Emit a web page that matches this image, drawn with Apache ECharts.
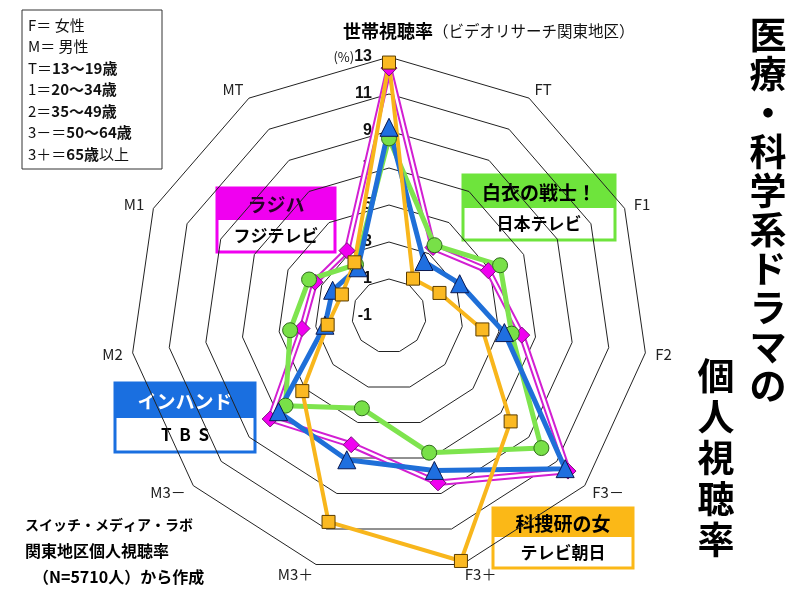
<!DOCTYPE html>
<html lang="ja">
<head>
<meta charset="UTF-8">
<title>医療・科学系ドラマの個人視聴率</title>
<script src="https://cdn.jsdelivr.net/npm/echarts@6/dist/echarts.min.js"></script>
<style>
  html, body { margin: 0; padding: 0; background: #fff; }
  #main { width: 800px; height: 600px; }
</style>
</head>
<body>
<div id="main"></div>
<script>
// 軸（上から時計回り）。先頭は世帯視聴率（見出しは別に描く）
var axisNames = ['', 'FT', 'F1', 'F2', 'F3－', 'F3＋', 'M3＋', 'M3－', 'M2', 'M1', 'MT'];
var tickMin = -1;
var tickMax = 13;
var tickCount = 7;

// 各ドラマの視聴率（%）、並びは axisNames と同じ
var radiationHouse = [12.4, 3.4, 4.9, 6.25, 11.8, 8.4, 6.25, 7.5, 3.75, 3.4, 3.2];   // ラジハ（フジテレビ）
var hakuiNoSenshi  = [8.6, 3.55, 5.6, 5.7, 9.9, 6.7, 4.2, 6.4, 4.4, 3.75, 2.3];     // 白衣の戦士！（日本テレビ）
var inHand         = [9.2, 2.5, 3.2, 5.3, 11.6, 7.7, 7.1, 6.9, 2.5, 2.35, 2.1];     // インハンド（TBS）
var kasouken       = [12.7, 1.4, 2.0, 4.1, 7.7, 12.8, 10.6, 5.2, 2.35, 1.8, 2.45];  // 科捜研の女（テレビ朝日）

var legendLines = [
  '{n|F＝ 女性}',
  '{n|M＝ 男性}',
  '{n|T＝}{b|13〜19歳}',
  '{n|1＝}{b|20〜34歳}',
  '{n|2＝}{b|35〜49歳}',
  '{n|3－＝}{b|50〜64歳}',
  '{n|3＋＝}{b|65歳}{n|以上}'
];
var sourceLines = ['スイッチ・メディア・ラボ', '関東地区個人視聴率', '　（N=5710人）から作成'];
var titleCol1 = '医療・科学系ドラマの';
var titleCol2 = '個人視聴率';

var FONT = '"Noto Sans CJK JP", "Noto Sans", sans-serif';

// echarts のレーダーは反時計回りに並ぶので順序を反転
function ccw(arr) {
  return [arr[0]].concat(arr.slice(1).reverse());
}

var indicator = ccw(axisNames).map(function (n, i) {
  var ind = { name: n, min: tickMin, max: tickMax };
  if (i === 0) {
    ind.axisLabel = {
      show: true,
      color: '#111',
      fontWeight: 'bold',
      fontSize: 16,
      fontFamily: 'Liberation Sans, Arial, sans-serif',
      margin: 17,
      formatter: function (v) {
        return v === tickMax ? '{p|(%)}' + v : '' + v;
      },
      rich: { p: { fontSize: 13, fontWeight: 'normal', color: '#111', fontFamily: FONT } }
    };
  }
  return ind;
});

function box(x, y, w, h1, h2, color, title, titleColor, sub) {
  return {
    type: 'group',
    children: [
      { type: 'rect', shape: { x: x, y: y, width: w, height: h1 }, style: { fill: color } },
      { type: 'rect', shape: { x: x, y: y + h1, width: w, height: h2 }, style: { fill: '#fff' } },
      { type: 'rect', shape: { x: x, y: y, width: w, height: h1 + h2 },
        style: { fill: 'none', stroke: color, lineWidth: 3 } },
      { type: 'text', x: x + w / 2, y: y + h1 / 2 + 1,
        style: { text: title, fill: titleColor, font: 'bold 19px ' + FONT, textAlign: 'center', textVerticalAlign: 'middle' } },
      { type: 'text', x: x + w / 2, y: y + h1 + h2 / 2,
        style: { text: sub, fill: '#000', font: 'bold 17px ' + FONT, textAlign: 'center', textVerticalAlign: 'middle' } }
    ]
  };
}

var graphics = [];
// 凡例説明の枠
graphics.push({ type: 'rect', shape: { x: 22, y: 10, width: 140, height: 159 },
  style: { fill: '#fff', stroke: '#333', lineWidth: 1 } });
legendLines.forEach(function (t, i) {
  graphics.push({ type: 'text', x: 28, y: 25 + i * 21.5,
    style: { text: t, textVerticalAlign: 'middle', rich: {
      n: { fontSize: 15, fontFamily: FONT, fill: '#111' },
      b: { fontSize: 15, fontWeight: 'bold', fontFamily: FONT, fill: '#111' } } } });
});
// 出典
sourceLines.forEach(function (t, i) {
  graphics.push({ type: 'text', x: 25, y: 525 + i * 26,
    style: { text: t, fill: '#000', font: 'bold ' + (i === 0 ? 14 : 16) + 'px ' + FONT, textVerticalAlign: 'middle' } });
});
// 上の見出し
graphics.push({ type: 'text', x: 343, y: 31,
  style: { text: '{a|世帯視聴率}{b|（ビデオリサーチ関東地区）}', textVerticalAlign: 'middle', rich: {
    a: { fontSize: 18, fontWeight: 'bold', fontFamily: FONT, fill: '#000' },
    b: { fontSize: 15.5, fontFamily: FONT, fill: '#111' } } } });
// 縦書きタイトル
graphics.push({ type: 'text', x: 768, y: 15,
  style: { text: titleCol1.split('').join('\n'), fill: '#000', font: 'bold 37px ' + FONT,
    lineHeight: 39, textAlign: 'center' } });
graphics.push({ type: 'text', x: 716, y: 355,
  style: { text: titleCol2.split('').join('\n'), fill: '#000', font: 'bold 37px ' + FONT,
    lineHeight: 41, textAlign: 'center' } });
// ドラマ名の札
graphics.push(box(217, 188, 118, 32, 32, '#f000f0', 'ラジハ', '#2a002a', 'フジテレビ'));
graphics.push(box(463, 175, 152, 33, 32, '#6ee43c', '白衣の戦士！', '#000', '日本テレビ'));
graphics.push(box(115, 383, 140, 35, 34, '#1a6fe0', 'インハンド', '#fff', 'T  B  S'));
graphics.push(box(493, 508, 140, 29, 31, '#fbb817', '科捜研の女', '#000', 'テレビ朝日'));

function series(name, values, line, lineW, symbol, size, fill, border) {
  return {
    type: 'radar',
    name: name,
    symbol: symbol,
    symbolSize: size,
    lineStyle: { color: line, width: lineW },
    itemStyle: { color: fill, borderColor: border, borderWidth: 1 },
    data: [{ value: ccw(values) }]
  };
}

var chart = echarts.init(document.getElementById('main'));
chart.setOption({
  animation: false,
  backgroundColor: '#fff',
  radar: {
    center: [389, 316],
    radius: 259,
    startAngle: 90,
    shape: 'polygon',
    splitNumber: tickCount,
    indicator: indicator,
    nameGap: 10,
    axisName: { color: '#222', fontSize: 15, fontFamily: FONT },
    splitLine: { lineStyle: { color: '#222', width: 1 } },
    splitArea: { show: false },
    axisLine: { show: false },
    axisTick: { show: false },
    axisLabel: { show: false }
  },
  series: [
    series('ラジハ枠', radiationHouse, '#d21fd2', 6.5, 'none', 0, '#d21fd2', '#d21fd2'),
    series('ラジハ', radiationHouse, '#fff', 2.5, 'diamond', 16, '#f000f0', '#7a107a'),
    series('白衣の戦士！', hakuiNoSenshi, '#7ee44e', 5, 'circle', 15, '#78e048', '#2f6a1c'),
    series('インハンド', inHand, '#1f6fd8', 5, 'triangle', 18, '#1f6fe0', '#0a1850'),
    series('科捜研の女', kasouken, '#f8b61c', 4, 'rect', 13, '#fbb922', '#5a3c00')
  ],
  graphic: graphics
});
</script>
</body>
</html>
